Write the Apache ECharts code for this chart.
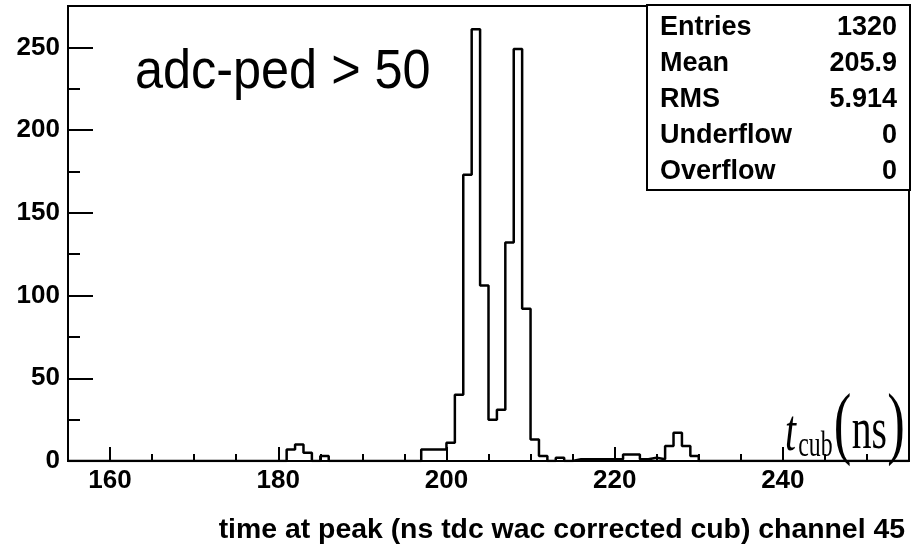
<!DOCTYPE html>
<html>
<head>
<meta charset="utf-8">
<style>
  html, body { margin: 0; padding: 0; background: #fff; }
  #chart { width: 916px; height: 550px; }
</style>
<script src="https://cdn.jsdelivr.net/npm/echarts@6/dist/echarts.min.js"></script>
</head>
<body>
<div id="chart"></div>
<script>
// histogram: 100 bins of 1 ns, from 155 to 255
const xMin = 155;
const xMax = 255;
const counts = [
  0, 0, 0, 0, 0, 0, 0, 0, 0, 0,        // 155-164
  0, 0, 0, 0, 0, 0, 0, 0, 0, 0,        // 165-174
  0, 0, 0, 0, 0, 0, 7, 10, 5, 0,       // 175-184
  3, 0, 0, 0, 0, 0, 0, 0, 0, 0,        // 185-194
  0, 0, 7, 7, 7, 11, 40, 173, 261, 106, // 195-204
  25, 31, 132, 249, 92, 13, 3, 0, 2, 0, // 205-214
  1, 1, 1, 1, 1, 1, 4, 4, 1, 2,        // 215-224
  1, 9, 17, 9, 3, 0, 0, 0, 0, 0,       // 225-234
  0, 0, 0, 0, 0, 0, 0, 0, 0, 0,        // 235-244
  0, 0, 0, 0, 0, 0, 0, 0, 0, 0         // 245-254
];
const xMajorTicks = [160, 180, 200, 220, 240];
const xMinorTicks = [160, 165, 170, 175, 180, 185, 190, 195, 200, 205, 210, 215, 220, 225, 230, 235, 240, 245, 250];
const statNames = ["Entries", "Mean", "RMS", "Underflow", "Overflow"];
const statValues = ["1320", "205.9", "5.914", "0", "0"];

// step line points at bin left edges, plus closing edge
let histData = counts.map((c, i) => [xMin + i, c]);
histData.push([xMax, 0]);

let chart = echarts.init(document.getElementById("chart"));

const sans = "'Liberation Sans', Arial, sans-serif";
const serif = "'Liberation Serif', 'Times New Roman', serif";

let statTexts = [];
for (let i = 0; i < statNames.length; i++) {
  statTexts.push({
    type: "text", x: 660, y: 28 + i * 35.8,
    style: { text: statNames[i], font: "bold 27px " + sans, fill: "#000", verticalAlign: "middle" }
  });
  statTexts.push({
    type: "text", x: 897, y: 28 + i * 35.8,
    style: { text: statValues[i], font: "bold 27px " + sans, fill: "#000", align: "right", verticalAlign: "middle" }
  });
}

var option = {
  animation: false,
  grid: {
    left: 68, right: 7, top: 6, bottom: 89,
    show: true, borderColor: "#000", borderWidth: 2
  },
  xAxis: [
    {
      type: "value", min: xMin, max: xMax,
      axisLine: { show: true, lineStyle: { color: "#000", width: 2 } },
      splitLine: { show: false },
      axisTick: { show: true, inside: true, length: 14, customValues: xMajorTicks, lineStyle: { color: "#000", width: 2 } },
      axisLabel: { customValues: xMajorTicks, color: "#000", fontSize: 26, fontWeight: "bold", fontFamily: sans, margin: 7 }
    },
    {
      type: "value", min: xMin, max: xMax, position: "bottom",
      axisLine: { show: false },
      splitLine: { show: false },
      axisTick: { show: true, inside: true, length: 7, customValues: xMinorTicks, lineStyle: { color: "#000", width: 2 } },
      axisLabel: { show: false }
    }
  ],
  yAxis: {
    type: "value", min: 0, max: 275, interval: 50,
    axisLine: { show: true, lineStyle: { color: "#000", width: 2 } },
    splitLine: { show: false },
    axisTick: { show: true, inside: true, length: 25, lineStyle: { color: "#000", width: 2 } },
    minorTick: { show: true, splitNumber: 2, length: 12, lineStyle: { color: "#000", width: 2 } },
    axisLabel: {
      color: "#000", fontSize: 26, fontWeight: "bold", fontFamily: sans, margin: 8,
      formatter: v => (v <= 250 ? String(v) : "")
    }
  },
  series: [
    {
      type: "line", step: "end", data: histData,
      xAxisIndex: 0, yAxisIndex: 0,
      showSymbol: false, symbol: "none",
      lineStyle: { color: "#000", width: 2.5 }
    }
  ],
  graphic: [
    {
      type: "text", x: 135, y: 73, scaleX: 0.9,
      style: { text: "adc-ped > 50", font: "56px " + sans, fill: "#000", verticalAlign: "middle" }
    },
    {
      type: "rect", shape: { x: 647, y: 5, width: 263, height: 185 },
      style: { fill: "#fff", stroke: "#000", lineWidth: 2 }
    },
    ...statTexts,
    {
      type: "text", x: 905, y: 530,
      style: { text: "time at peak (ns tdc wac corrected cub) channel 45", font: "bold 28.4px " + sans, fill: "#000", align: "right", verticalAlign: "middle" }
    },
    {
      type: "group", x: 785, y: 0, scaleX: 0.66,
      children: [
        { type: "text", x: 0, y: 434, style: { text: "t", font: "italic 60px " + serif, fill: "#000", verticalAlign: "middle" } },
        { type: "text", x: 20, y: 447, style: { text: "cub", font: "36px " + serif, fill: "#000", verticalAlign: "middle" } },
        { type: "text", x: 74, y: 428, style: { text: "(", font: "80px " + serif, fill: "#000", verticalAlign: "middle" } },
        { type: "text", x: 101, y: 432, style: { text: "ns", font: "60px " + serif, fill: "#000", verticalAlign: "middle" } },
        { type: "text", x: 155, y: 428, style: { text: ")", font: "80px " + serif, fill: "#000", verticalAlign: "middle" } }
      ]
    }
  ]
};

chart.setOption(option);

window.onresize = function () {
  chart.resize();
};
</script>
</body>
</html>
